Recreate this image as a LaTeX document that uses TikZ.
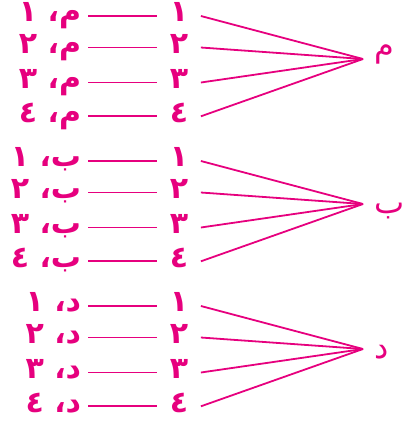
\documentclass[tikz,border=0pt]{standalone}
\usepackage{fontspec}
\usepackage{tikz}
\newfontfamily\arabicfont[Script=Arabic]{DejaVu Sans}
\TeXXeTstate=1
\definecolor{treepink}{RGB}{230,0,126}

\begin{document}
\begin{tikzpicture}[x=1bp,y=-1bp,line width=1.8bp,draw=treepink,text=treepink,
    font=\arabicfont\bfseries\fontsize{30bp}{32bp}\selectfont,
    pairlbl/.style={anchor=east,inner xsep=6bp,inner ysep=0pt,text height=1.15em,text depth=0pt},
    numlbl/.style={minimum width=42bp,inner sep=0pt,text height=1.15em,text depth=0pt},
    rootlbl/.style={anchor=base west,inner sep=0pt,font=\arabicfont\mdseries\fontsize{32bp}{34bp}\selectfont}]
  \useasboundingbox (0,0) rectangle (414,424);
  \foreach \g/\ltr/\ry in {0/م/-3,1/ب/9,2/د/9} {
    \coordinate (apex\g) at (363,{59+145*\g});
    \node[rootlbl] (root\g) at (374,{59+145*\g+\ry}) {\ltr};
    \foreach \r/\dy/\dg in {1/0/١,2/31.5/٢,3/66.5/٣,4/100.3/٤} {
      \node[pairlbl] (pair\g\r) at (88,{16+145*\g+\dy}) {\beginR\ltr، \dg\endR};
      \node[numlbl] (num\g\r) at (179,{16+145*\g+\dy}) {\dg};
      \draw (pair\g\r) -- (num\g\r);
      \draw (num\g\r.east) -- (apex\g);
    }
  }
\end{tikzpicture}
\end{document}
